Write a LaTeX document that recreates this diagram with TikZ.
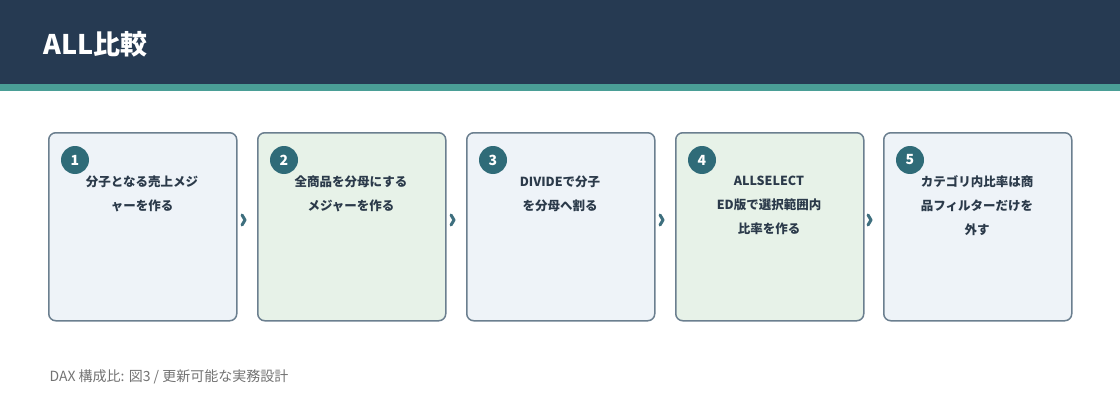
\documentclass[tikz,border=0pt]{standalone}
\usepackage{fontspec}
\usetikzlibrary{calc}
\setmainfont{Noto Sans CJK JP}
\definecolor{navy}{HTML}{263A52}
\definecolor{teal}{HTML}{4A9E96}
\definecolor{bluef}{HTML}{EEF3F8}
\definecolor{greenf}{HTML}{E7F2E8}
\definecolor{bord}{HTML}{6B7F8F}
\definecolor{circ}{HTML}{2F6B78}
\definecolor{txt}{HTML}{2B3A4A}
\definecolor{arr}{HTML}{3E6F7E}
\begin{document}
\begin{tikzpicture}[x=1pt,y=-1pt,
 box/.style={draw=bord,line width=1.5pt,rounded corners=7pt,minimum width=188pt,minimum height=188pt,anchor=north west},
 num/.style={circle,fill=circ,minimum size=28pt,inner sep=0,text=white,font=\bfseries\fontsize{14}{14}\selectfont},
 lab/.style={anchor=north,align=center,text=txt,font=\bfseries\fontsize{12.5}{24}\selectfont},
 chev/.style={draw=arr,line width=3pt,line cap=round,line join=round}]
\useasboundingbox (0,0) rectangle (1120,420);
\fill[white] (0,0) rectangle (1120,420);
\fill[navy] (0,0) rectangle (1120,84);
\fill[teal] (0,84) rectangle (1120,91);
\node[anchor=west,text=white,font=\bfseries\fontsize{27}{27}\selectfont] (title) at (40,44) {ALL比較};
\foreach \i/\x/\f/\t in {1/48/bluef/{分子となる売上メジ\\ャーを作る},
 2/257/greenf/{全商品を分母にする\\メジャーを作る},
 3/466/bluef/{DIVIDEで分子\\を分母へ割る},
 4/675/greenf/{ALLSELECT\\ED版で選択範囲内\\比率を作る},
 5/883/bluef/{カテゴリ内比率は商\\品フィルターだけを\\外す}}{
 \node[box,fill=\f] (b\i) at (\x,132) {};
 \node[num] (n\i) at (\x+27,160) {\i};
 \node[lab] (l\i) at (\x+94,172) {\t};
}
\foreach \x/\i in {245/1,454/2,663/3,871/4}{
 \coordinate (c\i) at (\x,220);
 \draw[chev] ($(c\i)+(-3,-5)$) -- (c\i) -- ($(c\i)+(-3,5)$);
}
\node[anchor=west,text=gray!90!black,font=\fontsize{14}{14}\selectfont] (foot) at (46,377) {DAX 構成比: 図3 / 更新可能な実務設計};
\end{tikzpicture}
\end{document}
